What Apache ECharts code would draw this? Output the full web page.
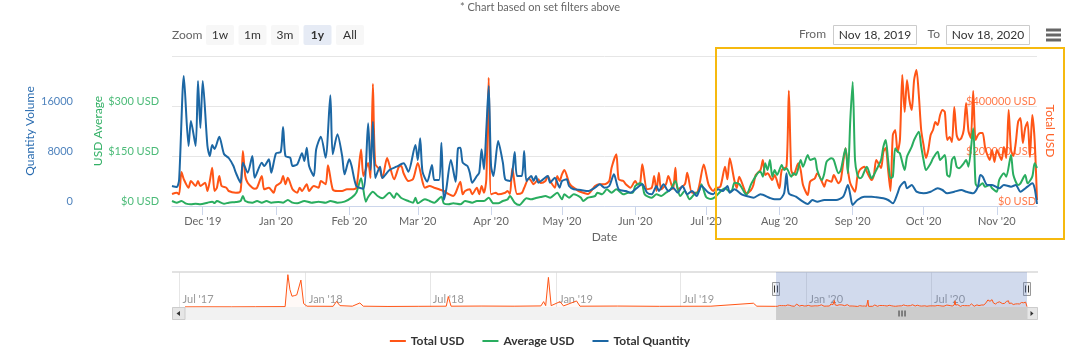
<!DOCTYPE html>
<html>
<head>
<meta charset="utf-8">
<script src="https://cdn.jsdelivr.net/npm/echarts@6/dist/echarts.min.js"></script>
<style>
html, body { margin: 0; padding: 0; background: #fff; }
#chart { width: 1080px; height: 350px; }
</style>
</head>
<body>
<div id="chart"></div>
<script>
// day offsets are counted from Nov 18, 2019 (start of the 1y window)
const totalDays = [
    0, 2, 3, 4, 5, 7, 8, 10, 11, 12,
    14, 15, 16, 17, 18, 19, 20, 21, 23, 24,
    27, 29, 30, 31, 32, 34, 35, 36, 38, 39,
    41, 43, 44, 46, 47, 48, 49, 51, 53, 54,
    55, 57, 58, 60, 62, 63, 65, 66, 68, 70,
    72, 74, 76, 78, 80, 81, 83, 84, 85, 86,
    88, 89, 91, 92, 94, 96, 97, 98, 100, 102,
    104, 106, 107, 109, 111, 113, 115, 117, 119, 120,
    122, 123, 124, 126, 127, 129, 130, 131, 132, 133,
    134, 135, 137, 138, 141, 142, 143, 144, 146, 148,
    149, 151, 152, 153, 155, 156, 158, 159, 160, 162,
    163, 164, 165, 166, 168, 169, 171, 172, 174, 176,
    179, 181, 183, 185, 186, 188, 189, 191, 192, 194,
    196, 197, 198, 199, 201, 203, 204, 205, 206, 207,
    209, 210, 212, 213, 214, 217, 218, 220, 222, 223,
    225, 227, 229, 230, 232, 234, 235, 236, 238, 239,
    240, 242, 243, 245, 246, 247, 249, 250, 251, 252,
    254, 255, 257, 258, 260, 261, 262, 263, 265, 266,
    267, 269, 270, 272, 273, 275, 276, 277, 279, 280,
    282, 283, 285, 286, 287, 289, 290, 291, 293, 294,
    296, 297, 298, 300, 301, 302, 303, 304, 305, 306,
    307, 308, 309, 310, 311, 312, 313, 314, 315, 316,
    317, 318, 319, 320, 321, 322, 323, 324, 325, 326,
    327, 328, 329, 330, 331, 332, 333, 334, 335, 336,
    337, 338, 339, 340, 341, 342, 343, 344, 345, 346,
    347, 348, 349, 350, 351, 352, 353, 354, 355, 356,
    357, 358, 359, 360, 361, 362, 363, 364, 365, 366
];
const totalVals = [
    48000, 53200, 46800, 136000, 106800, 73200, 100000, 80000, 100000, 80000,
    93200, 60000, 100000, 153200, 60000, 73200, 120000, 80000, 73200, 60000,
    53200, 60000, 220000, 120000, 93200, 73200, 69200, 73200, 120000, 66800,
    73200, 53200, 80000, 93200, 120000, 86800, 113200, 66800, 53200, 73200,
    60000, 86800, 60000, 80000, 73200, 100000, 86800, 162800, 66800, 60000,
    60000, 66800, 66800, 73200, 226000, 120000, 172000, 112000, 488000, 168000,
    144000, 112000, 192000, 164000, 106800, 157200, 160000, 130800, 100000, 108000,
    172000, 97200, 73200, 80000, 73200, 66800, 60000, 48000, 40000, 52000,
    97200, 46800, 60000, 66800, 46800, 73200, 46800, 80000, 53200, 106800,
    513200, 46800, 53200, 46800, 53200, 60000, 48000, 150800, 48000, 52000,
    72000, 110800, 100000, 86800, 106800, 92000, 100000, 120000, 100000, 73200,
    120000, 100000, 126800, 144000, 93200, 80000, 66800, 60000, 53200, 48000,
    80000, 86800, 86800, 100000, 153200, 206800, 106800, 100000, 86800, 73200,
    100000, 86800, 88000, 166800, 66800, 73200, 120000, 60000, 133200, 66800,
    86800, 120000, 66800, 153200, 66800, 86800, 133200, 53200, 53200, 77200,
    166000, 86800, 60000, 70800, 77200, 157200, 106800, 190800, 100000, 72000,
    117200, 70800, 50800, 64000, 84000, 124000, 144000, 184000, 124000, 130800,
    104000, 124000, 70800, 144000, 157200, 461200, 144000, 124000, 170800, 144000,
    84000, 44000, 97200, 110800, 130800, 97200, 77200, 104000, 97200, 124000,
    90800, 104000, 230800, 144000, 90800, 57200, 117200, 144000, 157200, 137200,
    104000, 124000, 184000, 152000, 216000, 232000, 144000, 60000, 284000, 304000,
    216000, 264000, 524000, 376000, 504000, 424000, 384000, 504000, 544000, 444000,
    304000, 244000, 192000, 224000, 284000, 304000, 336000, 324000, 364000, 384000,
    376000, 264000, 276000, 256000, 396000, 284000, 264000, 272000, 304000, 412000,
    300000, 272000, 460000, 264000, 284000, 292000, 292000, 236000, 204000, 184000,
    224000, 176000, 224000, 204000, 184000, 236000, 192000, 384000, 224000, 200000,
    252000, 336000, 352000, 252000, 312000, 336000, 196000, 364000, 264000, 24000
];

const avgDays = [
    0, 2, 4, 6, 8, 10, 12, 15, 17, 18,
    19, 22, 24, 27, 29, 30, 31, 34, 36, 38,
    40, 42, 45, 47, 49, 51, 53, 56, 59, 62,
    65, 67, 70, 73, 76, 78, 80, 82, 83, 85,
    87, 89, 92, 94, 95, 97, 100, 102, 103, 104,
    107, 109, 111, 114, 115, 117, 119, 122, 124, 127,
    129, 132, 134, 136, 138, 140, 142, 143, 145, 147,
    150, 152, 154, 156, 158, 160, 163, 165, 166, 168,
    170, 173, 174, 176, 179, 180, 182, 184, 186, 188,
    191, 193, 195, 196, 198, 199, 200, 203, 205, 207,
    209, 211, 213, 215, 217, 219, 221, 223, 224, 226,
    228, 230, 232, 234, 236, 237, 238, 240, 242, 243,
    245, 246, 248, 249, 250, 251, 252, 253, 254, 255,
    256, 258, 259, 260, 262, 263, 264, 266, 267, 269,
    270, 272, 273, 275, 276, 277, 279, 280, 282, 283,
    285, 286, 287, 288, 289, 290, 291, 292, 294, 296,
    297, 298, 300, 301, 302, 303, 304, 305, 306, 307,
    308, 310, 311, 313, 314, 316, 317, 318, 319, 321,
    322, 324, 325, 327, 328, 329, 330, 331, 332, 333,
    335, 336, 337, 339, 340, 341, 343, 344, 346, 347,
    349, 350, 352, 353, 355, 356, 358, 359, 361, 362,
    364, 365, 366
];
const avgVals = [
    15, 10, 15, 7, 5, 7, 5, 10, 13, 9,
    15, 7, 10, 12, 15, 30, 15, 10, 15, 10,
    15, 10, 12, 10, 18, 10, 8, 15, 10, 13,
    10, 15, 10, 13, 25, 40, 83, 13, 27, 43,
    30, 23, 40, 24, 38, 24, 15, 10, 25, 8,
    20, 15, 10, 28, 8, 5, 8, 5, 15, 10,
    15, 15, 25, 8, 8, 15, 20, 30, 10, 3,
    23, 20, 24, 27, 30, 25, 40, 20, 35, 25,
    35, 25, 15, 25, 30, 40, 35, 50, 40, 50,
    35, 40, 40, 60, 68, 65, 35, 25, 35, 30,
    40, 50, 75, 30, 45, 20, 35, 45, 65, 27,
    21, 28, 43, 53, 43, 48, 70, 66, 43, 33,
    65, 78, 100, 103, 88, 128, 108, 138, 88, 108,
    93, 123, 108, 113, 88, 98, 93, 138, 118, 153,
    138, 143, 108, 78, 98, 133, 143, 138, 98, 108,
    173, 98, 258, 372, 138, 93, 83, 88, 118, 83,
    93, 108, 138, 178, 198, 138, 83, 88, 173, 163,
    158, 108, 148, 178, 198, 223, 178, 138, 108, 128,
    143, 163, 138, 153, 93, 88, 138, 148, 118, 113,
    128, 138, 118, 233, 68, 58, 68, 58, 63, 53,
    43, 78, 98, 88, 153, 93, 63, 68, 93, 68,
    88, 128, 114
];

const qtyDays = [
    0, 2, 3, 5, 7, 8, 10, 11, 12, 13,
    15, 16, 17, 18, 20, 22, 24, 26, 27, 29,
    30, 32, 34, 35, 38, 39, 41, 42, 44, 46,
    47, 48, 50, 51, 53, 55, 56, 57, 58, 60,
    61, 63, 65, 67, 68, 70, 72, 73, 75, 76,
    78, 81, 83, 84, 85, 86, 88, 89, 92, 95,
    98, 100, 103, 104, 105, 106, 108, 110, 111, 113,
    114, 115, 116, 118, 120, 121, 122, 123, 125, 126,
    127, 129, 130, 131, 132, 133, 134, 135, 136, 138,
    140, 141, 143, 144, 145, 146, 148, 149, 150, 152,
    153, 154, 155, 157, 159, 160, 162, 164, 165, 167,
    168, 170, 173, 176, 179, 181, 183, 185, 187, 189,
    192, 194, 196, 199, 201, 203, 205, 206, 208, 210,
    212, 214, 216, 218, 220, 222, 224, 227, 229, 231,
    233, 235, 236, 238, 241, 243, 246, 249, 253, 255,
    257, 259, 260, 261, 264, 267, 269, 271, 273, 276,
    279, 281, 284, 286, 287, 288, 290, 293, 296, 298,
    301, 303, 305, 307, 308, 310, 311, 313, 315, 318,
    321, 324, 326, 328, 331, 334, 336, 339, 341, 342,
    343, 345, 347, 350, 352, 355, 357, 359, 362, 364,
    365, 366
];
const qtyVals = [
    3200, 3040, 4160, 20800, 9600, 13600, 9600, 20000, 12480, 20000,
    9600, 8000, 9760, 9120, 11090, 8320, 7680, 6400, 5330, 3730,
    6930, 5330, 8000, 4530, 6930, 6400, 7470, 5330, 8430, 8640,
    12640, 8000, 7730, 6400, 6670, 8430, 7200, 9330, 6400, 4800,
    9070, 11090, 7730, 17710, 8270, 11470, 8000, 5070, 7470, 6400,
    3200, 2770, 13230, 5760, 13490, 4480, 6290, 4480, 5760, 6290,
    6830, 5490, 9760, 7360, 10830, 5490, 3890, 6560, 4160, 4160,
    10130, 960, 2560, 7360, 3890, 9230, 9330, 6930, 6400, 5330,
    3730, 4800, 5330, 9070, 5870, 12270, 19200, 6400, 4800, 10400,
    6930, 4270, 4000, 5330, 8640, 4800, 4800, 8800, 4000, 4800,
    4000, 4800, 3730, 4270, 4800, 3730, 4530, 2930, 4000, 4270,
    3200, 2670, 2560, 2400, 2930, 3470, 2930, 3200, 5070, 2670,
    2400, 2130, 2670, 3470, 2130, 1870, 3200, 2400, 3470, 2400,
    2930, 2130, 3200, 1870, 2400, 1600, 3200, 2130, 1870, 2670,
    2400, 3200, 2130, 2670, 1870, 1600, 1330, 1870, 1280, 1070,
    1070, 2030, 5230, 2030, 1490, 690, 320, 960, 690, 960,
    960, 960, 1490, 3360, 1760, 160, 960, 1490, 1490, 1390,
    1230, 960, 430, 2030, 3090, 3890, 2830, 3360, 2290, 2030,
    2290, 2830, 2560, 2030, 2290, 2560, 2290, 2030, 3090, 4960,
    4690, 3360, 3360, 2830, 3360, 3090, 3360, 2290, 3090, 3630,
    2830, 320
];

// older Total USD history, only visible in the navigator
const navHistDates = [
    '2017-07-09', '2017-08-10', '2017-09-15', '2017-10-20', '2017-12-02',
    '2017-12-06', '2017-12-09', '2017-12-12', '2017-12-16', '2017-12-19',
    '2017-12-25', '2017-12-29', '2018-01-03', '2018-02-10', '2018-02-15',
    '2018-02-20', '2018-03-10', '2018-03-21', '2018-03-26', '2018-05-01',
    '2018-06-15', '2018-07-25', '2018-07-28', '2018-08-01', '2018-09-15',
    '2018-11-01', '2018-12-10', '2018-12-14', '2018-12-17', '2018-12-21',
    '2018-12-25', '2019-01-07', '2019-01-12', '2019-01-31', '2019-02-05',
    '2019-04-01', '2019-06-01', '2019-08-15', '2019-10-16', '2019-10-21',
    '2019-11-17'
];
const navHistVals = [
    10000, 15000, 12000, 20000, 30000,
    2400000, 1300000, 800000, 850000, 900000,
    2000000, 250000, 60000, 50000, 420000,
    100000, 60000, 300000, 60000, 40000,
    50000, 60000, 780000, 60000, 70000,
    60000, 80000, 400000, 100000, 2200000,
    100000, 400000, 80000, 450000, 60000,
    70000, 50000, 60000, 280000, 60000,
    50000
];

const monthTicks = [
    '2019-12-01', '2020-01-01', '2020-02-01', '2020-03-01', '2020-04-01', '2020-05-01',
    '2020-06-01', '2020-07-01', '2020-08-01', '2020-09-01', '2020-10-01', '2020-11-01'
];
const navTicks = [
    '2017-07-01', '2018-01-01', '2018-07-01', '2019-01-01',
    '2019-07-01', '2020-01-01', '2020-07-01'
];
const rangeButtons = ['1w', '1m', '3m', '1y', 'All'];
const rangeFrom = '2019-11-18';
const rangeTo = '2020-11-18';
const navFrom = '2017-06-20';

const MONTHS = ['Jan', 'Feb', 'Mar', 'Apr', 'May', 'Jun', 'Jul', 'Aug', 'Sep', 'Oct', 'Nov', 'Dec'];
const FONT = 'Lato, "Liberation Sans", Arial, sans-serif';

const ORANGE = '#ff5516';
const GREEN = '#29ad5f';
const BLUE = '#1c67a4';

function ts (str) {
    let p = str.split('-');
    return new Date(+p[0], +p[1] - 1, +p[2]).getTime();
}
function dayTs (d) {
    return new Date(2019, 10, 18 + d).getTime();
}
function monthLabel (v) {
    let d = new Date(v);
    return MONTHS[d.getMonth()] + " '" + String(d.getFullYear()).slice(2);
}
function usd (v) {
    return '$' + v + ' USD';
}

const totalData = totalDays.map((d, i) => [dayTs(d), totalVals[i]]);
const avgData = avgDays.map((d, i) => [dayTs(d), avgVals[i]]);
const qtyData = qtyDays.map((d, i) => [dayTs(d), qtyVals[i]]);
const navData = navHistDates.map((d, i) => [ts(d), navHistVals[i]]).concat(totalData);

const startTs = ts(rangeFrom);
const endTs = ts(rangeTo);

let chart = echarts.init(document.getElementById('chart'));

let yLabel = {
    fontSize: 11,
    verticalAlign: 'bottom',
    lineHeight: 10,
    showMaxLabel: false
};

chart.setOption({
    animation: false,
    backgroundColor: '#fff',
    textStyle: { fontFamily: FONT },
    grid: [
        { left: 172, right: 43, top: 56, height: 150 },
        { left: 172, right: 53, top: 272, height: 35 }
    ],
    legend: {
        data: ['Total USD', 'Average USD', 'Total Quantity'],
        left: 'center',
        top: 330,
        icon: 'rect',
        itemWidth: 16,
        itemHeight: 2,
        itemGap: 18,
        textStyle: { color: '#333', fontWeight: 'bold', fontSize: 12, fontFamily: FONT },
        selectedMode: false
    },
    xAxis: [
        {
            // timestamps on a plain value axis so the month ticks can be listed
            type: 'value',
            gridIndex: 0,
            min: startTs,
            max: endTs,
            name: 'Date',
            nameLocation: 'middle',
            nameGap: 25,
            nameTextStyle: { color: '#666', fontSize: 12 },
            axisLine: { lineStyle: { color: '#ccd6eb' } },
            axisTick: {
                show: true,
                length: 9,
                lineStyle: { color: '#ccd6eb' },
                customValues: monthTicks.map(ts)
            },
            axisLabel: {
                color: '#666',
                fontSize: 11,
                margin: 10,
                customValues: monthTicks.map(ts),
                formatter: monthLabel
            },
            splitLine: { show: false }
        },
        {
            type: 'value',
            gridIndex: 1,
            min: ts(navFrom),
            max: endTs,
            axisLine: { show: false },
            axisTick: { show: false, customValues: navTicks.map(ts) },
            axisLabel: {
                inside: true,
                color: '#999',
                fontSize: 11,
                align: 'left',
                verticalAlign: 'bottom',
                margin: 2,
                padding: [0, 0, 0, 3],
                customValues: navTicks.map(ts),
                formatter: monthLabel
            },
            splitLine: { show: true, lineStyle: { color: '#e6e6e6' } }
        }
    ],
    yAxis: [
        {
            type: 'value',
            gridIndex: 0,
            position: 'left',
            offset: 91,
            min: 0,
            max: 24000,
            interval: 8000,
            name: 'Quantity Volume',
            nameLocation: 'middle',
            nameGap: 45,
            nameMoveOverlap: false,
            nameRotate: 90,
            nameTextStyle: { color: '#2a6cb0', fontSize: 12 },
            axisLine: { show: false },
            axisTick: { show: false },
            axisLabel: Object.assign({ color: '#4f83bd', formatter: v => String(v) }, yLabel),
            splitLine: { lineStyle: { color: '#e6e6e6' } }
        },
        {
            type: 'value',
            gridIndex: 0,
            position: 'left',
            offset: 0,
            min: 0,
            max: 450,
            interval: 150,
            name: 'USD Average',
            nameLocation: 'middle',
            nameGap: 68,
            nameMoveOverlap: false,
            nameRotate: 90,
            nameTextStyle: { color: '#33b066', fontSize: 12 },
            axisLine: { show: false },
            axisTick: { show: false },
            axisLabel: Object.assign({ color: '#4cbb78', margin: 13, formatter: usd }, yLabel),
            splitLine: { show: false }
        },
        {
            type: 'value',
            gridIndex: 0,
            position: 'right',
            min: 0,
            max: 600000,
            interval: 200000,
            name: 'Total USD',
            nameLocation: 'middle',
            nameGap: 7,
            nameMoveOverlap: false,
            nameRotate: -90,
            nameTextStyle: { color: '#ff6127', fontSize: 12 },
            axisLine: { show: false },
            axisTick: { show: false },
            axisLabel: Object.assign({ color: '#ff7a4a', inside: true, margin: 1, formatter: usd }, yLabel),
            splitLine: { show: false }
        },
        {
            type: 'value',
            gridIndex: 1,
            min: 0,
            max: 2600000,
            show: false
        }
    ],
    series: [
        {
            name: 'Total USD',
            type: 'line',
            xAxisIndex: 0,
            yAxisIndex: 2,
            data: totalData,
            showSymbol: false,
            smooth: 0.25,
            lineStyle: { color: ORANGE, width: 2 },
            itemStyle: { color: ORANGE }
        },
        {
            name: 'Average USD',
            type: 'line',
            xAxisIndex: 0,
            yAxisIndex: 1,
            data: avgData,
            showSymbol: false,
            smooth: 0.25,
            lineStyle: { color: GREEN, width: 2 },
            itemStyle: { color: GREEN }
        },
        {
            name: 'Total Quantity',
            type: 'line',
            xAxisIndex: 0,
            yAxisIndex: 0,
            data: qtyData,
            showSymbol: false,
            smooth: 0.25,
            lineStyle: { color: BLUE, width: 2 },
            itemStyle: { color: BLUE }
        },
        {
            name: 'navigator',
            type: 'line',
            xAxisIndex: 1,
            yAxisIndex: 3,
            data: navData,
            showSymbol: false,
            lineStyle: { color: ORANGE, width: 1 },
            areaStyle: { color: 'rgba(255, 85, 22, 0.05)' },
            markArea: {
                silent: true,
                itemStyle: { color: 'rgba(102, 133, 194, 0.3)' },
                data: [[{ xAxis: startTs }, { xAxis: endTs }]]
            }
        }
    ]
});

// range selector, inputs, navigator chrome and the highlight frame
let x0 = chart.convertToPixel({ xAxisIndex: 1 }, startTs);
let x1 = chart.convertToPixel({ xAxisIndex: 1 }, endTs);
let g = [];

g.push({ type: 'text', style: { text: '* Chart based on set filters above', x: 540, y: 7, fill: '#666', font: '11px ' + FONT, textAlign: 'center', textVerticalAlign: 'middle' } });
g.push({ type: 'text', style: { text: 'Zoom', x: 172, y: 35, fill: '#666', font: '12px ' + FONT, textAlign: 'left', textVerticalAlign: 'middle' } });
rangeButtons.forEach((b, i) => {
    let bx = 206 + i * 32.5;
    let sel = b === '1y';
    g.push({ type: 'rect', shape: { x: bx, y: 25, width: 28, height: 20, r: 2 }, style: { fill: sel ? '#e6ebf5' : '#f7f7f7' } });
    g.push({ type: 'text', style: { text: b, x: bx + 14, y: 35, fill: '#333', font: (sel ? 'bold ' : '') + '12px ' + FONT, textAlign: 'center', textVerticalAlign: 'middle' } });
});

g.push({ type: 'text', style: { text: 'From', x: 826, y: 34.5, fill: '#666', font: '12px ' + FONT, textAlign: 'right', textVerticalAlign: 'middle' } });
g.push({ type: 'rect', shape: { x: 833.5, y: 25.5, width: 83, height: 19 }, style: { fill: '#fff', stroke: '#cccccc', lineWidth: 1 } });
g.push({ type: 'text', style: { text: 'Nov 18, 2019', x: 875, y: 35, fill: '#333', font: '12px ' + FONT, textAlign: 'center', textVerticalAlign: 'middle' } });
g.push({ type: 'text', style: { text: 'To', x: 940, y: 34.5, fill: '#666', font: '12px ' + FONT, textAlign: 'right', textVerticalAlign: 'middle' } });
g.push({ type: 'rect', shape: { x: 946.5, y: 25.5, width: 83, height: 19 }, style: { fill: '#fff', stroke: '#cccccc', lineWidth: 1 } });
g.push({ type: 'text', style: { text: 'Nov 18, 2020', x: 988, y: 35, fill: '#333', font: '12px ' + FONT, textAlign: 'center', textVerticalAlign: 'middle' } });
[28.5, 33.5, 38.5].forEach(y => {
    g.push({ type: 'rect', shape: { x: 1046, y: y, width: 15, height: 3 }, style: { fill: '#666' } });
});

// navigator outline and scrollbar
g.push({ type: 'line', shape: { x1: 172, y1: 272, x2: 1038, y2: 272 }, style: { stroke: '#d9d9d9', lineWidth: 1.5 } });
g.push({ type: 'rect', shape: { x: 172, y: 307, width: 866, height: 13 }, style: { fill: '#f2f2f2' } });
g.push({ type: 'rect', shape: { x: x0, y: 307, width: x1 - x0, height: 13 }, style: { fill: '#cccccc' } });
let cx = (x0 + x1) / 2;
[-3, 0, 3].forEach(dx => {
    g.push({ type: 'line', shape: { x1: cx + dx + 0.5, y1: 310.5, x2: cx + dx + 0.5, y2: 316.5 }, style: { stroke: '#333', lineWidth: 1 } });
});
g.push({ type: 'rect', shape: { x: 172.5, y: 307.5, width: 12.5, height: 12 }, style: { fill: '#e6e6e6', stroke: '#cccccc', lineWidth: 1 } });
g.push({ type: 'polygon', shape: { points: [[176.5, 313.5], [180, 311], [180, 316]] }, style: { fill: '#333' } });
g.push({ type: 'rect', shape: { x: x1, y: 307.5, width: 1037.5 - x1, height: 12 }, style: { fill: '#e6e6e6', stroke: '#cccccc', lineWidth: 1 } });
g.push({ type: 'polygon', shape: { points: [[x1 + 6.5, 313.5], [x1 + 3.5, 311], [x1 + 3.5, 316]] }, style: { fill: '#333' } });
[x0, x1].forEach(hx => {
    g.push({ type: 'rect', shape: { x: Math.round(hx) - 3.5, y: 282.5, width: 7, height: 13 }, style: { fill: '#f2f2f2', stroke: '#999', lineWidth: 1 } });
    g.push({ type: 'line', shape: { x1: Math.round(hx) - 1.5, y1: 285.5, x2: Math.round(hx) - 1.5, y2: 292.5 }, style: { stroke: '#333', lineWidth: 1 } });
    g.push({ type: 'line', shape: { x1: Math.round(hx) + 1.5, y1: 285.5, x2: Math.round(hx) + 1.5, y2: 292.5 }, style: { stroke: '#333', lineWidth: 1 } });
});

// yellow highlight frame drawn over the last months
g.push({ type: 'rect', z: 100, shape: { x: 716, y: 48, width: 348, height: 191 }, style: { fill: 'none', stroke: '#f6b90f', lineWidth: 2 } });

g.forEach(el => { el.silent = true; });
chart.setOption({ graphic: g });
</script>
</body>
</html>
